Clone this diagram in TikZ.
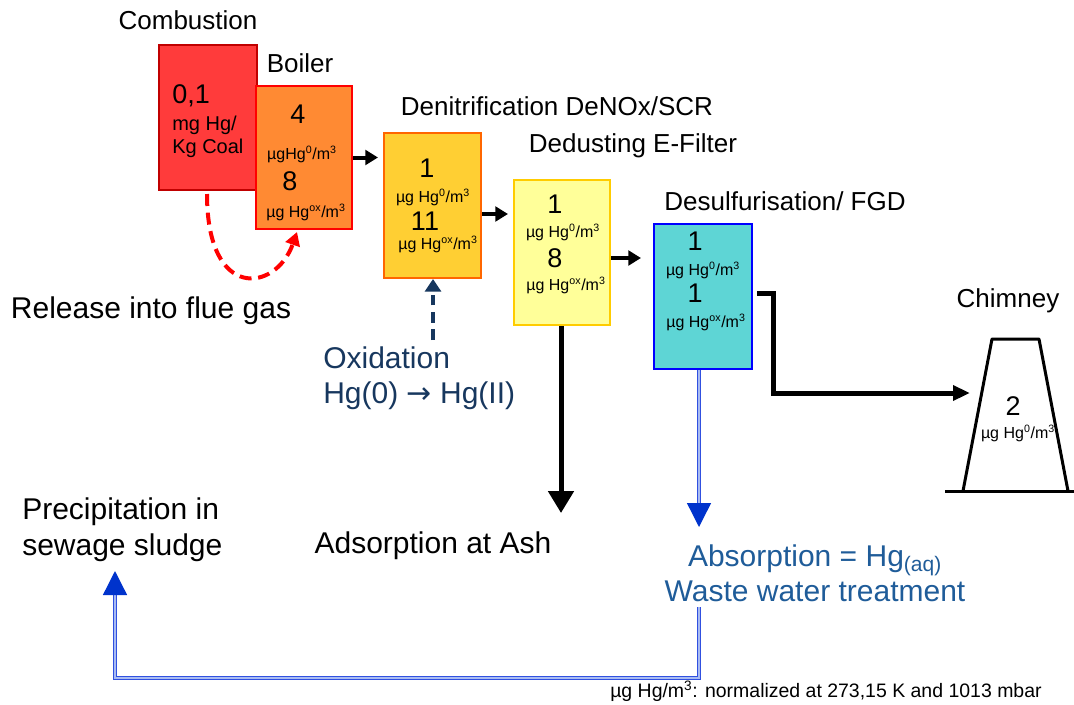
\documentclass[tikz,border=0pt]{standalone}
\usepackage{fontspec}
\setmainfont{Liberation Sans}
\newfontfamily\arrowfont{DejaVu Sans}
\usetikzlibrary{arrows.meta}
\usetikzlibrary{calc}

\definecolor{combred}{HTML}{FF3B3B}
\definecolor{combline}{HTML}{C00000}
\definecolor{boilorange}{HTML}{FF8A33}
\definecolor{denoxgold}{HTML}{FFCF33}
\definecolor{denoxline}{HTML}{FF6600}
\definecolor{dustyellow}{HTML}{FFFF99}
\definecolor{dustline}{HTML}{FFCC00}
\definecolor{fgdcyan}{HTML}{5ED5D5}
\definecolor{fgdline}{HTML}{0000FF}
\definecolor{oxnavy}{HTML}{17375E}
\definecolor{waterblue}{HTML}{1F5C99}
\definecolor{loopblue}{HTML}{3050E0}
\definecolor{looplight}{HTML}{A8BBF2}
\definecolor{tipblue}{HTML}{0033CC}

\newcommand{\ugzero}{µg Hg\textsuperscript{0}/m\textsuperscript{3}}
\newcommand{\ugox}{µg Hg\textsuperscript{ox}/m\textsuperscript{3}}

\tikzset{
  stage/.style={draw, line width=1.5pt, inner sep=0pt, anchor=north west,
    minimum width=72pt, minimum height=108.75pt},
  head/.style={font=\fontsize{19.5}{23}\selectfont, inner sep=0pt, anchor=base},
  remark/.style={font=\fontsize{22.5}{27}\selectfont, inner sep=0pt, anchor=base},
  value/.style={font=\fontsize{20.25}{24}\selectfont, inner sep=0pt, anchor=base},
  coal/.style={font=\fontsize{15}{18}\selectfont, inner sep=0pt, anchor=base west},
  conc/.style={font=\fontsize{12}{14}\selectfont, inner sep=0pt, anchor=base},
  foot/.style={font=\fontsize{14.6}{17}\selectfont, inner sep=0pt, anchor=base west},
  flow/.style={line width=3pt, -{Triangle[length=9.5pt, width=11pt]}},
  bigflow/.style={line width=3.75pt, -{Triangle[length=16.5pt, width=18.75pt]}},
  redflow/.style={red, line width=3pt, dash pattern=on 9pt off 5pt,
    -{Triangle[length=10pt, width=11pt]}},
  oxflow/.style={oxnavy, line width=3.2pt, dash pattern=on 8pt off 5pt,
    -{Triangle[length=9.5pt, width=12pt]}},
  water/.style={draw=loopblue, double=looplight, line width=1pt, double distance=1.5pt,
    -{Triangle[length=18pt, width=18pt, fill=tipblue, color=tipblue]}}
}

\begin{document}
\begin{tikzpicture}[x=0.75pt, y=-0.75pt]
  \useasboundingbox (0,0) rectangle (1074,704);

  % process stages
  \node[stage, fill=combred, draw=combline, minimum width=73.5pt] (comb) at (158,44) {};
  \node[stage, fill=boilorange, draw=red, minimum height=107.25pt] (boiler) at (255,85) {};
  \node[stage, fill=denoxgold, draw=denoxline, minimum width=72.75pt] (denox) at (383,132) {};
  \node[stage, fill=dustyellow, draw=dustline] (dedust) at (513,179) {};
  \node[stage, fill=fgdcyan, draw=fgdline, minimum width=73.5pt] (fgd) at (653,223) {};

  % chimney
  \draw[line width=2.25pt, line join=round] (963,491) -- (992,339) -- (1039,339) -- (1068,491);
  \draw[line width=2.25pt] (945,491) -- (1074,491); % ground
  \coordinate (chimin) at (970,393);
  \coordinate (ashin) at (561,513);
  \coordinate (waterin) at (699,527);
  \coordinate (loopstart) at (699,607);
  \coordinate (sludgein) at (115,571);

  % stage titles
  \node[head] (combt) at (188,29) {Combustion};
  \node[head] (boilt) at (300,72) {Boiler};
  \node[head] (denoxt) at (557,115) {Denitrification DeNOx/SCR};
  \node[head] (dedustt) at (633,152) {Dedusting E-Filter};
  \node[head] (fgdt) at (785,210) {Desulfurisation/ FGD};
  \node[head] (chimt) at (1008,307) {Chimney};

  % concentrations
  \node[value, anchor=base west] (combv) at (172,103) {0,1};
  \node[coal] (combu) at (172,130) {mg Hg/};
  \node[coal] (combk) at (172,153) {Kg Coal};
  \node[value] (boilv) at (298,123) {4};
  \node[conc] (boilu) at (302,159) {µgHg\textsuperscript{0}/m\textsuperscript{3}};
  \node[value] (boilw) at (290,190) {8};
  \node[conc] (boilx) at (306,217) {\ugox};
  \node[value] (denoxv) at (427,177) {1};
  \node[conc] (denoxu) at (433,202) {\ugzero};
  \node[value] (denoxw) at (425,230) {11};
  \node[conc] (denoxx) at (438,249) {\ugox};
  \node[value] (dedustv) at (555,213) {1};
  \node[conc] (dedustu) at (563,237) {\ugzero};
  \node[value] (dedustw) at (555,267) {8};
  \node[conc] (dedustx) at (566,290) {\ugox};
  \node[value] (fgdv) at (695,250) {1};
  \node[conc] (fgdu) at (703,275) {\ugzero};
  \node[value] (fgdw) at (695,302) {1};
  \node[conc] (fgdx) at (706,327) {\ugox};
  \node[value] (chimv) at (1013,415) {2};
  \node[conc] (chimu) at (1018,438) {\ugzero};

  % remarks
  \node[remark] (release) at (151,318) {Release into flue gas};
  \node[remark, anchor=base west, text=oxnavy] (oxida) at (323,368) {Oxidation};
  \node[remark, anchor=base west, text=oxnavy] (oxidb) at (323,403) {Hg(0) {\arrowfont →} Hg(II)};
  \node[remark] (ash) at (433,553) {Adsorption at Ash};
  \node[remark, text=waterblue] (absorb) at (815,566) {Absorption = Hg\textsubscript{(aq)}};
  \node[remark, text=waterblue] (wwt) at (815,601) {Waste water treatment};
  \node[remark, anchor=base west] (precipa) at (22,519) {Precipitation in};
  \node[remark, anchor=base west] (precipb) at (22,555) {sewage sludge};
  \node[foot] (note) at (610,697) {µg Hg/m\textsuperscript{3}: normalized at 273,15 K and 1013 mbar};

  % gas flow
  \draw[flow] (boiler.east) -- ($(boiler.east -| denox.west)+(-5,0)$);
  \draw[flow] ($(denox.east)+(0,8.5)$) -- ($(dedust.west)+(-5,-38.5)$);
  \draw[flow] ($(dedust.east)+(0,5.5)$) -- ($(fgd.west)+(-12,-38.5)$);
  \draw[line width=3.75pt, -{Triangle[length=12.75pt, width=11pt]}]
    ($(fgd.east)+(4,-3.5)$) -- ++(16,0) |- (chimin);

  % release and oxidation
  \draw[redflow] ($(comb.south)+(-1,3)$) .. controls +(0,108) and +(-21,60) .. ($(boiler.south)+(-7,2)$);
  \draw[oxflow] ($(denox.south)+(0.5,61)$) -- ($(denox.south)+(0.5,0)$);

  % ash and waste water
  \draw[bigflow] (ashin |- dedust.south) -- (ashin);
  \draw[water] (waterin |- fgd.south) -- (waterin);
  \draw[water] (loopstart) -- ++(0,71) -| (sludgein);
\end{tikzpicture}
\end{document}
